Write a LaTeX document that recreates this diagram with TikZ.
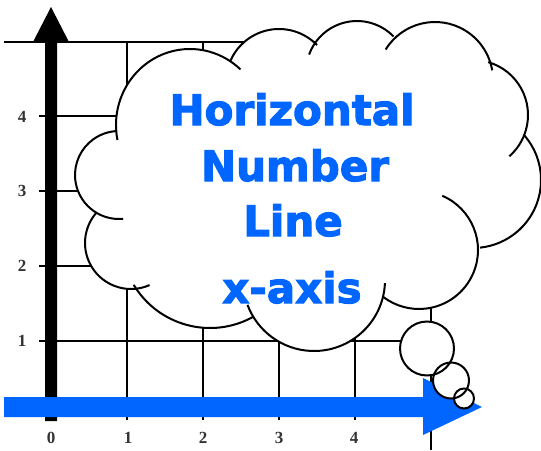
\documentclass[tikz,border=0pt]{standalone}
\usepackage{fontspec}
\newfontfamily\cloudfont{DejaVu Sans}[UprightFont={* Bold}, UprightFeatures={FakeBold=2.5}]
\newfontfamily\labelfont{Liberation Serif}
\definecolor{axisblue}{RGB}{0,102,255}
\begin{document}
\begin{tikzpicture}[x=1pt,y=-1pt,
  gridline/.style={line width=1.8pt, black},
  lobe/.style={line width=2pt, black},
  cloudtext/.style={text=axisblue, font=\cloudfont\fontsize{42}{42}\selectfont, anchor=base, inner sep=0pt},
  numlabel/.style={font=\labelfont\bfseries\fontsize{17}{17}\selectfont, text=black!80, inner sep=0pt}]
\useasboundingbox (0,0) rectangle (541,450);

% grid
\foreach \gx in {127,203,279,355} \draw[gridline] (\gx,42) -- (\gx,420);
\draw[gridline] (431,42) -- (431,450);
\foreach \gy in {116,191,266,341} \draw[gridline] (39,\gy) -- (431,\gy);
\draw[gridline] (4,42) -- (431,42);

% vertical (y) axis
\fill[black] (45,421) -- (45,42) -- (33,42) -- (51,7) -- (69,42) -- (57,42) -- (57,421) -- cycle;

% horizontal (x) axis
\fill[axisblue] (4,397) -- (423,397) -- (423,378) -- (482,407) -- (423,435) -- (423,417) -- (4,417) -- cycle;

% axis labels
\node[numlabel] (y1) at (22,341) {1};
\node[numlabel] (y2) at (22,266) {2};
\node[numlabel] (y3) at (22,191) {3};
\node[numlabel] (y4) at (22,117) {4};
\node[numlabel] (x0) at (51,438) {0};
\node[numlabel] (x1) at (128,438) {1};
\node[numlabel] (x2) at (203,438) {2};
\node[numlabel] (x3) at (279,438) {3};
\node[numlabel] (x4) at (354,438) {4};

% cloud fill (outline between junctions)
\fill[white]
  ([shift={(190,125)}]176:74 and 76) arc[start angle=176, end angle=301.4, x radius=74, y radius=76]
  -- ([shift={(279,82)}]202.4:53) arc[start angle=202.4, end angle=315.8, radius=53]
  -- ([shift={(357,72)}]212.4:51) arc[start angle=212.4, end angle=315.8, radius=51]
  -- ([shift={(435,80)}]224.3:58) arc[start angle=224.3, end angle=342.2, radius=58]
  -- ([shift={(473,115)}]286.1:55) arc[start angle=286.1, end angle=383.7, radius=55]
  -- ([shift={(473,180)}]319.3:68) arc[start angle=319.3, end angle=444.1, radius=68]
  -- ([shift={(419,250)}]358.1:59) arc[start angle=358.1, end angle=487.2, radius=59]
  -- ([shift={(314,280)}]16.6:71) arc[start angle=16.6, end angle=148.1, radius=71]
  -- ([shift={(210,239)}]61.1:89) arc[start angle=61.1, end angle=147.7, radius=89]
  -- ([shift={(131,243)}]91:46) arc[start angle=91, end angle=221.4, radius=46]
  -- ([shift={(119,175)}]120:44) arc[start angle=120, end angle=267.5, radius=44]
  -- cycle;

% cloud lobes (with their small overlapping ends)
\draw[lobe] ([shift={(190,125)}]168.6:74 and 76) arc[start angle=168.6, end angle=313, x radius=74, y radius=76];
\foreach \cx/\cy/\r/\sa/\ea in {
  279/82/53/202.4/315.8,
  357/72/51/200/315.8,
  435/80/58/211.7/350.4,
  473/115/55/286.1/408.6,
  473/180/68/319.3/444.1,
  419/250/59/293.2/487.2,
  314/280/71/2.5/159.5,
  210/239/89/61.1/149,
  131/243/46/66.2/221.4,
  119/175/44/84.7/267.5}
  \draw[lobe] ([shift={(\cx,\cy)}]\sa:\r) arc[start angle=\sa, end angle=\ea, radius=\r];

% thought bubbles
\fill[white] (427,348.5) circle[radius=27];
\fill[white] (451,380.5) circle[radius=18];
\fill[white] (464,398.5) circle[radius=10];
\draw[lobe] (427,348.5) circle[radius=27];
\draw[lobe] (451,380.5) circle[radius=18];
\draw[lobe] (464,398.5) circle[radius=10];

% cloud text
\node[cloudtext] (t1) at (292,125) {Horizontal};
\node[cloudtext] (t2) at (295,181) {Number};
\node[cloudtext] (t3) at (293,236) {Line};
\node[cloudtext] (t4) at (292,303) {x-axis};
\end{tikzpicture}
\end{document}
